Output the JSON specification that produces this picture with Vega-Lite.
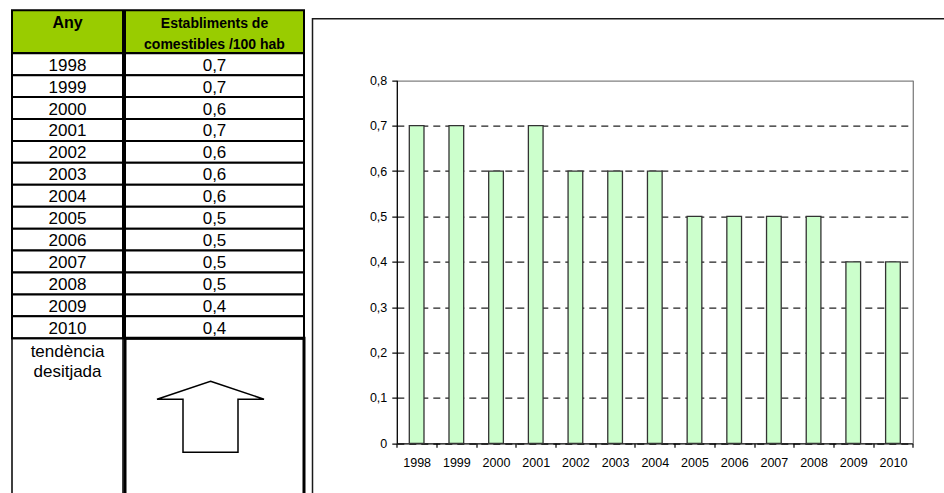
{
  "$schema": "https://vega.github.io/schema/vega-lite/v6.json",
  "padding": {"left": 10, "top": 9, "right": 0, "bottom": 0},
  "background": "white",
  "config": {
    "locale": {"number": {"decimal": ",", "thousands": ".", "grouping": [3], "currency": ["", " €"]}},
    "font": "Liberation Sans",
    "text": {"font": "Liberation Sans", "color": "#000"},
    "axis": {"labelFont": "Liberation Sans", "labelColor": "#000"}
  },
  "datasets": {
    "rows": [
      {"year": "1998", "value": 0.7},
      {"year": "1999", "value": 0.7},
      {"year": "2000", "value": 0.6},
      {"year": "2001", "value": 0.7},
      {"year": "2002", "value": 0.6},
      {"year": "2003", "value": 0.6},
      {"year": "2004", "value": 0.6},
      {"year": "2005", "value": 0.5},
      {"year": "2006", "value": 0.5},
      {"year": "2007", "value": 0.5},
      {"year": "2008", "value": 0.5},
      {"year": "2009", "value": 0.4},
      {"year": "2010", "value": 0.4}
    ],
    "header1": [{"line": "1", "label": "Any"}],
    "header2": [{"line": "1", "label": "Establiments de"}, {"line": "2", "label": "comestibles /100 hab"}],
    "trendText": [{"line": "1", "label": "tendència"}, {"line": "2", "label": "desitjada"}],
    "trend": [{"trend": "up"}]
  },
  "hconcat": [
    {
      "hconcat": [
        {
          "vconcat": [
            {
              "width": 111, "height": 43,
              "view": {"fill": "#99CC00", "stroke": "#000", "strokeWidth": 2},
              "data": {"name": "header1"},
              "mark": {"type": "text", "fontWeight": "bold", "fontSize": 16, "baseline": "middle", "dy": 2},
              "encoding": {
                "y": {"field": "line", "type": "nominal", "scale": {"domain": ["1", "2"]}, "axis": null},
                "text": {"field": "label"}
              }
            },
            {
              "width": 111, "height": 285,
              "view": {"stroke": "#000", "strokeWidth": 2},
              "data": {"name": "rows"},
              "encoding": {"y": {"field": "year", "type": "nominal", "axis": null, "scale": {"type": "band", "paddingInner": 0, "paddingOuter": 0}}},
              "layer": [
                {"mark": {"type": "rect", "fill": "white", "stroke": "#000", "strokeWidth": 2}},
                {"mark": {"type": "text", "fontSize": 17, "baseline": "middle", "dy": 1.5}, "encoding": {"text": {"field": "year"}}}
              ]
            },
            {
              "width": 111, "height": 166,
              "view": {"stroke": "#000", "strokeWidth": 1.5},
              "data": {"name": "trendText"},
              "mark": {"type": "text", "fontSize": 17, "baseline": "middle", "dy": 3},
              "encoding": {
                "y": {"field": "line", "type": "nominal", "scale": {"domain": ["1", "2", "3", "4", "5", "6", "7", "8"]}, "axis": null},
                "text": {"field": "label"}
              }
            }
          ],
          "spacing": 0,
          "bounds": "flush"
        },
        {
          "vconcat": [
            {
              "width": 179, "height": 43,
              "view": {"fill": "#99CC00", "stroke": "#000", "strokeWidth": 2},
              "data": {"name": "header2"},
              "mark": {"type": "text", "fontWeight": "bold", "fontSize": 14, "baseline": "middle", "dy": 2.5},
              "encoding": {
                "y": {"field": "line", "type": "nominal", "scale": {"domain": ["1", "2"]}, "axis": null},
                "text": {"field": "label"}
              }
            },
            {
              "width": 179, "height": 285,
              "view": {"stroke": "#000", "strokeWidth": 2},
              "data": {"name": "rows"},
              "encoding": {"y": {"field": "year", "type": "nominal", "axis": null, "scale": {"type": "band", "paddingInner": 0, "paddingOuter": 0}}},
              "layer": [
                {"mark": {"type": "rect", "fill": "white", "stroke": "#000", "strokeWidth": 2}},
                {"mark": {"type": "text", "fontSize": 17, "baseline": "middle", "dy": 1.5}, "encoding": {"text": {"field": "value", "type": "quantitative", "format": ".1f"}}}
              ]
            },
            {
              "width": 179, "height": 166,
              "view": {"stroke": "#000", "strokeWidth": 3},
              "data": {"name": "trend"},
              "mark": {"type": "point", "fill": "white", "stroke": "#000", "strokeWidth": 1.5, "opacity": 1, "size": 11449, "xOffset": -4, "yOffset": -4.5},
              "encoding": {
                "shape": {"field": "trend", "type": "nominal", "scale": {"domain": ["up"], "range": ["M0,-0.664L1,-0.327L0.514,-0.327L0.514,0.664L-0.514,0.664L-0.514,-0.327L-1,-0.327Z"]}, "legend": null}
              }
            }
          ],
          "spacing": 0,
          "bounds": "flush"
        }
      ],
      "spacing": -2.5
    },
    {
      "width": 636, "height": 478,
      "view": {"stroke": "#1a1a1a", "strokeWidth": 1.5},
      "data": {"name": "rows"},
      "encoding": {
        "x": {
          "field": "year", "type": "nominal",
          "scale": {"type": "band", "paddingInner": 0, "paddingOuter": 0, "range": [84.3, 600.3]},
          "axis": {"orient": "bottom", "offset": -53.3, "tickBand": "extent", "tickSize": 4, "tickColor": "#000", "tickWidth": 1.2, "domainColor": "#000", "domainWidth": 1.3, "labelAngle": 0, "labelFontSize": 12.5, "labelPadding": 9, "title": null, "grid": false}
        }
      },
      "layer": [
        {
          "mark": {"type": "bar", "width": {"band": 0.37}, "fill": "#CCFFCC", "stroke": "#333", "strokeWidth": 1.3},
          "encoding": {
            "y": {
              "field": "value", "type": "quantitative",
              "scale": {"domain": [0, 0.8], "range": [424.7, 61.7], "nice": false},
              "axis": {
                "orient": "left", "offset": -84.3,
                "values": [0, 0.1, 0.2, 0.3, 0.4, 0.5, 0.6, 0.7, 0.8],
                "labelExpr": "replace(format(datum.value, '.1~f'), '.', ',')",
                "domainColor": "#000", "domainWidth": 1.3, "tickColor": "#000", "tickSize": 5, "tickWidth": 1.2,
                "labelFontSize": 12.5, "labelPadding": 5, "title": null,
                "grid": true,
                "gridColor": {"condition": {"test": "datum.value >= 0.79", "value": "#808080"}, "value": "#222"},
                "gridDash": {"condition": {"test": "datum.value >= 0.79", "value": []}, "value": [7, 5]},
                "gridWidth": 1.2
              }
            }
          }
        },
        {
          "mark": {"type": "bar", "width": {"band": 0.37}, "opacity": 0},
          "encoding": {
            "y": {
              "field": "value", "type": "quantitative",
              "scale": {"domain": [0, 0.8], "range": [424.7, 61.7], "nice": false},
              "axis": {"orient": "right", "offset": -35.7, "labels": false, "ticks": false, "grid": false, "domainColor": "#808080", "domainWidth": 1.3, "title": null}
            }
          }
        }
      ],
      "resolve": {"axis": {"y": "independent"}}
    }
  ],
  "spacing": 5.5,
  "center": true
}
